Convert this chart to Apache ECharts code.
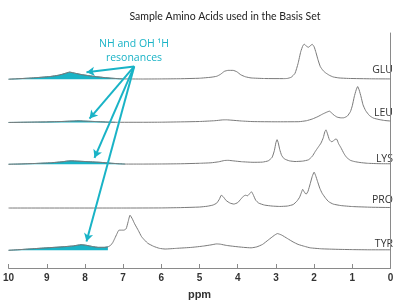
<!DOCTYPE html>
<html><head><meta charset="utf-8">
<script src="https://cdn.jsdelivr.net/npm/echarts@6/dist/echarts.min.js"></script>
<style>html,body{margin:0;padding:0;background:#fff}#c{width:400px;height:305px}</style>
</head><body><div id="c"></div>
<script>
// ---- data (ppm, relative intensity) ----
const names = ['GLU', 'LEU', 'LYS', 'PRO', 'TYR'];
const baselineOffsets = [192, 148, 105.5, 61, 18];
const xTicks = [10, 9, 8, 7, 6, 5, 4, 3, 2, 1, 0];

const GLU = [[10,0],[9.85,0.3],[9.5,1],[9.2,1.8],[8.9,2.8],[8.7,4],[8.55,5.5],[8.4,7.2],[8.25,6],[8.1,4.8],[7.9,3.6],[7.7,2.6],[7.5,1.7],[7.3,1],[7.1,0.5],[7.0,0.3],[6.5,0.2],[6,0.3],[5.5,0.5],[5.0,1],[4.7,2],[4.55,3],[4.45,5],[4.35,8],[4.25,9],[4.12,9],[4.02,7.5],[3.92,4.5],[3.8,2.5],[3.65,1.3],[3.3,0.7],[2.8,0.6],[2.7,0.8],[2.6,2],[2.5,6],[2.42,16],[2.35,28],[2.29,34.5],[2.25,35.5],[2.2,33.5],[2.15,32.5],[2.1,34],[2.05,35.5],[2.0,33],[1.95,27],[1.9,20],[1.84,13],[1.77,9],[1.7,6.5],[1.6,4],[1.5,2.3],[1.35,1.3],[1.1,0.8],[0.5,0.4],[0,0.3]];
const LEU = [[10,0],[9.5,0.3],[9.0,0.6],[8.6,1],[8.3,1.5],[8.15,1.7],[8.0,1.4],[7.7,0.9],[7.4,0.4],[7.2,0.2],[6.5,0.2],[6,0.3],[5.5,0.6],[5.0,1],[4.6,1.8],[4.4,2.6],[4.3,2.7],[4.15,2.3],[3.9,1.5],[3.6,0.9],[3.0,0.7],[2.4,0.8],[2.2,1.8],[2.05,3.5],[1.9,6],[1.78,8.5],[1.67,10.5],[1.6,11.5],[1.55,10],[1.48,7.5],[1.4,5.5],[1.3,4.7],[1.22,4.8],[1.13,6.5],[1.05,11],[1.0,17],[0.95,26],[0.9,33],[0.86,36.5],[0.82,33],[0.77,26],[0.72,18],[0.65,12],[0.55,7],[0.45,4.5],[0.3,3],[0.15,2],[0,1.5]];
const LYS = [[10,0],[9.7,0.3],[9.3,0.8],[8.9,1.5],[8.6,2.5],[8.45,3.3],[8.35,3.5],[8.2,3.2],[8.0,2.8],[7.7,2.2],[7.5,1.7],[7.3,1],[7.1,0.5],[6.95,0.2],[6.5,0.2],[6,0.3],[5.5,0.5],[5,1],[4.7,1.5],[4.5,2.5],[4.35,3.8],[4.25,4],[4.1,3.4],[3.9,2.6],[3.6,2],[3.35,2.2],[3.2,3.5],[3.1,7],[3.04,14],[3.0,22],[2.97,25],[2.94,22],[2.9,15],[2.85,9],[2.78,5.5],[2.65,3.5],[2.5,2.8],[2.3,3.2],[2.15,4.5],[2.05,8],[1.97,13],[1.9,17],[1.82,21.5],[1.76,27],[1.72,33],[1.69,35],[1.65,31],[1.6,25],[1.55,23],[1.5,23.5],[1.45,25.5],[1.41,25.5],[1.36,21],[1.3,17],[1.22,11],[1.15,7],[1.05,4],[0.95,2.8],[0.8,1.8],[0.6,1],[0.3,0.6],[0,0.5]];
const PRO = [[10,0],[7,0],[6,0.1],[5.5,0.4],[5.0,1],[4.8,1.8],[4.65,3],[4.55,5],[4.48,9],[4.43,13],[4.38,11.5],[4.3,7.5],[4.2,5],[4.1,4],[4.0,5.5],[3.92,9],[3.85,12],[3.8,13],[3.74,12.5],[3.68,15],[3.64,16.5],[3.6,14],[3.53,8],[3.45,5],[3.3,3],[3.1,2],[2.9,1.6],[2.7,2],[2.55,3.5],[2.45,7],[2.38,11],[2.33,16],[2.3,19],[2.26,16.5],[2.21,14],[2.16,17],[2.1,25],[2.05,32],[2.0,36.5],[1.96,33],[1.91,27],[1.85,20],[1.79,15],[1.7,10],[1.62,6.5],[1.5,4],[1.3,2.5],[1.0,1.5],[0.5,0.8],[0,0.5]];
const TYR = [[10,0],[9.7,0.7],[9.4,1.5],[9.0,2.5],[8.6,3.5],[8.3,4.5],[8.1,5.7],[7.95,5],[7.8,3.8],[7.65,3],[7.5,3],[7.4,3.5],[7.33,5],[7.27,8],[7.22,12],[7.16,17],[7.11,20.5],[7.05,20.5],[6.98,20.5],[6.92,22],[6.87,29],[6.82,35.7],[6.76,32],[6.7,27],[6.6,20],[6.52,14],[6.43,10],[6.35,7],[6.2,4],[6.05,2],[5.9,1.3],[5.6,2],[5.2,3],[4.9,4.3],[4.7,5.5],[4.55,6.5],[4.45,6.2],[4.3,5],[4.1,4],[3.85,3],[3.65,2.5],[3.5,3.5],[3.35,6],[3.2,10.5],[3.05,15],[2.96,17],[2.85,15.5],[2.7,12],[2.55,8.5],[2.42,6],[2.25,4],[2.1,2.5],[1.8,1.5],[1.4,1],[1,0.7],[0.5,0.5],[0,0.5]];
const spectra = [GLU, LEU, LYS, PRO, TYR];
// NH / OH resonance region (ppm) shaded for each trace (null = none)
const nhRanges = [[7.0, 10], [7.2, 10], [6.95, 10], null, [7.38, 10]];
// arrows: from label point to each shaded region [ppm, value]
const arrowFrom = [6.71, 205];
const arrowTo = [[7.96, 199], [7.88, 152], [7.75, 112], [7.96, 27]];

const TEAL = '#19b3c6';
const chart = echarts.init(document.getElementById('c'), null, {renderer: 'canvas'});
const series = [];
spectra.forEach((sp, i) => {
  const off = baselineOffsets[i];
  const r = nhRanges[i];
  if (r) {
    series.push({
      type: 'line', name: names[i] + '-nh', z: 1,
      data: sp.filter(p => p[0] >= r[0] && p[0] <= r[1]).map(p => [p[0], p[1] + off]),
      showSymbol: false, symbol: 'none', silent: true, smooth: 0.15,
      lineStyle: {width: 0.8, color: '#1a8f9e'},
      areaStyle: {color: TEAL, opacity: 1, origin: off}
    });
  }
  series.push({
    type: 'line', name: names[i], z: 3,
    data: sp.map(p => [p[0], p[1] + off]),
    showSymbol: false, symbol: 'none', silent: true, smooth: 0.15,
    lineStyle: {width: 1, color: '#7a7a7a'}
  });
});
series.push({
  type: 'line', data: [], silent: true,
  markLine: {
    silent: true, symbol: ['none', 'arrow'], symbolSize: [7, 8],
    label: {show: false},
    lineStyle: {color: TEAL, width: 2, type: 'solid'},
    data: arrowTo.map(t => [{coord: arrowFrom}, {coord: t}])
  }
});

const labelY = [72, 115, 161, 202, 246];
const graphics = names.map((n, i) => ({
  type: 'text', right: 7, top: labelY[i] - 7,
  style: {text: n, font: '10.5px "Open Sans"', fill: '#333'}
}));
graphics.push({type: 'text', x: 134, y: 44, style: {text: 'NH and OH ¹H', font: '10.5px "Open Sans"', fill: TEAL, textAlign: 'center', textVerticalAlign: 'middle'}});
graphics.push({type: 'text', x: 134, y: 58, style: {text: 'resonances', font: '10.5px "Open Sans"', fill: TEAL, textAlign: 'center', textVerticalAlign: 'middle'}});

chart.setOption({
  animation: false,
  title: {
    text: 'Sample Amino Acids used in the Basis Set', left: 220, top: 6, textAlign: 'center',
    textStyle: {fontSize: 10.5, fontWeight: 'normal', color: '#222', fontFamily: 'Lato'}
  },
  grid: {left: 6.5, right: 9.5, top: 33, bottom: 33},
  xAxis: {
    type: 'value', min: 0, max: 10, interval: 1, inverse: true,
    axisLine: {show: true, lineStyle: {color: '#8a8a8a', width: 1}},
    axisTick: {show: true, inside: true, length: 4, lineStyle: {color: '#8a8a8a'}},
    splitLine: {show: false},
    axisLabel: {fontSize: 10, fontWeight: 'bold', color: '#333', margin: 5, fontFamily: 'Liberation Sans',
      formatter: v => xTicks.includes(v) ? String(v) : ''},
    name: 'ppm', nameLocation: 'middle', nameGap: 21,
    nameTextStyle: {fontSize: 11, fontWeight: 'bold', color: '#333', fontFamily: 'Liberation Sans'}
  },
  yAxis: {
    type: 'value', min: 0, max: 239,
    axisLine: {show: true, lineStyle: {color: '#8a8a8a', width: 1}},
    axisTick: {show: false}, axisLabel: {show: false}, splitLine: {show: false}
  },
  graphic: graphics,
  series: series
});
</script></body></html>
